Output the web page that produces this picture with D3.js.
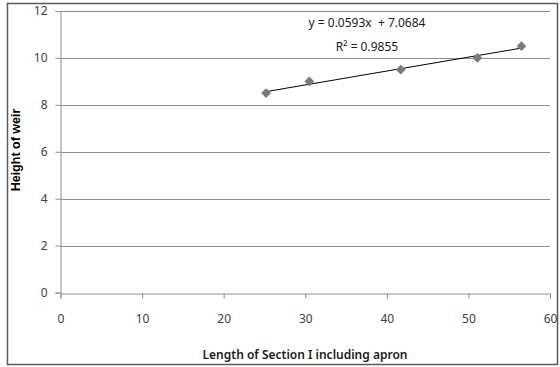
<!DOCTYPE html>
<html>
<head>
<meta charset="utf-8">
<script src="https://cdn.jsdelivr.net/npm/d3@7"></script>
<style>
  html, body { margin: 0; padding: 0; background: #fff; }
  svg { display: block; }
</style>
</head>
<body>
<svg id="chart" width="560" height="367"></svg>
<script>
// Section length (x) against weir height (y)
const sectionLength = [25.2, 30.5, 41.7, 51.1, 56.5];
const weirHeight = [8.5, 9.0, 9.5, 10.0, 10.5];
const xTicks = [0, 10, 20, 30, 40, 50, 60];
const yTicks = [0, 2, 4, 6, 8, 10, 12];
// Linear trendline as reported on the chart
const slope = 0.0593;
const intercept = 7.0684;
const rSquared = 0.9855;

const svg = d3.select("#chart");
const W = 560, H = 367;

const x = d3.scaleLinear().domain([0, 60]).range([60.5, 550]);
const y = d3.scaleLinear().domain([0, 12]).range([292.5, 11]);

// outer frame
svg.append("rect")
  .attr("x", 7.5).attr("y", 3.5)
  .attr("width", 550).attr("height", 361)
  .attr("fill", "#fff")
  .attr("stroke", "#5a5a5a").attr("stroke-width", 1.5);

// horizontal gridlines
svg.append("g")
  .selectAll("line")
  .data(yTicks.filter(d => d > 0))
  .join("line")
  .attr("x1", x(0)).attr("x2", x(60))
  .attr("y1", d => Math.round(y(d)) + 0.5)
  .attr("y2", d => Math.round(y(d)) + 0.5)
  .attr("stroke", "#8c8c8c").attr("stroke-width", 1);

const tickFont = "'Noto Sans', 'Open Sans', sans-serif";

// y axis
const yAxis = svg.append("g")
  .attr("transform", `translate(${x(0)},0)`)
  .call(d3.axisLeft(y).tickValues(yTicks).tickSize(5).tickPadding(8).tickFormat(d3.format("d")));
yAxis.select(".domain").attr("stroke", "#8c8c8c");
yAxis.selectAll(".tick line").attr("stroke", "#8c8c8c");
yAxis.selectAll(".tick text")
  .attr("fill", "#404040")
  .style("font-family", tickFont).style("font-size", "12px");

// x axis
const xAxis = svg.append("g")
  .attr("transform", `translate(0,${Math.round(y(0)) + 0.5})`)
  .call(d3.axisBottom(x).tickValues(xTicks).tickSize(5).tickPadding(16).tickFormat(d3.format("d")));
xAxis.select(".domain").attr("stroke", "#8c8c8c");
xAxis.selectAll(".tick line").attr("stroke", "#8c8c8c");
xAxis.selectAll(".tick text")
  .attr("fill", "#404040")
  .style("font-family", tickFont).style("font-size", "12px");

// axis titles
svg.append("text")
  .attr("x", 305).attr("y", 359)
  .attr("text-anchor", "middle")
  .attr("fill", "#1a1a1a")
  .style("font-family", tickFont).style("font-size", "12px").style("font-weight", "600")
  .text("Length of Section I including apron");

svg.append("text")
  .attr("transform", "translate(20,150) rotate(-90)")
  .attr("text-anchor", "middle")
  .attr("fill", "#000")
  .style("font-family", "'Liberation Sans', Arial, sans-serif").style("font-size", "12.5px").style("font-weight", "bold")
  .text("Height of weir");

// trendline across the data range
const xExtent = d3.extent(sectionLength);
svg.append("line")
  .attr("x1", x(xExtent[0])).attr("y1", y(slope * xExtent[0] + intercept))
  .attr("x2", x(xExtent[1])).attr("y2", y(slope * xExtent[1] + intercept))
  .attr("stroke", "#000").attr("stroke-width", 1);

// diamond markers
const diamond = d3.symbol().type(d3.symbolDiamond2).size(60);
svg.append("g")
  .selectAll("path")
  .data(sectionLength.map((v, i) => [v, weirHeight[i]]))
  .join("path")
  .attr("transform", d => `translate(${x(d[0])},${y(d[1])})`)
  .attr("d", diamond)
  .attr("fill", "#7a7a7a");

// trendline equation and R²
const eqFmt = d3.format(".4f");
svg.append("text")
  .attr("x", 367).attr("y", 27)
  .attr("text-anchor", "middle")
  .attr("fill", "#1a1a1a")
  .style("font-family", tickFont).style("font-size", "12px")
  .style("white-space", "pre").attr("xml:space", "preserve")
  .text(`y = ${eqFmt(slope)}x  + ${eqFmt(intercept)}`);
svg.append("text")
  .attr("x", 367).attr("y", 51)
  .attr("text-anchor", "middle")
  .attr("fill", "#1a1a1a")
  .style("font-family", tickFont).style("font-size", "12px")
  .text(`R² = ${eqFmt(rSquared)}`);
</script>
</body>
</html>
